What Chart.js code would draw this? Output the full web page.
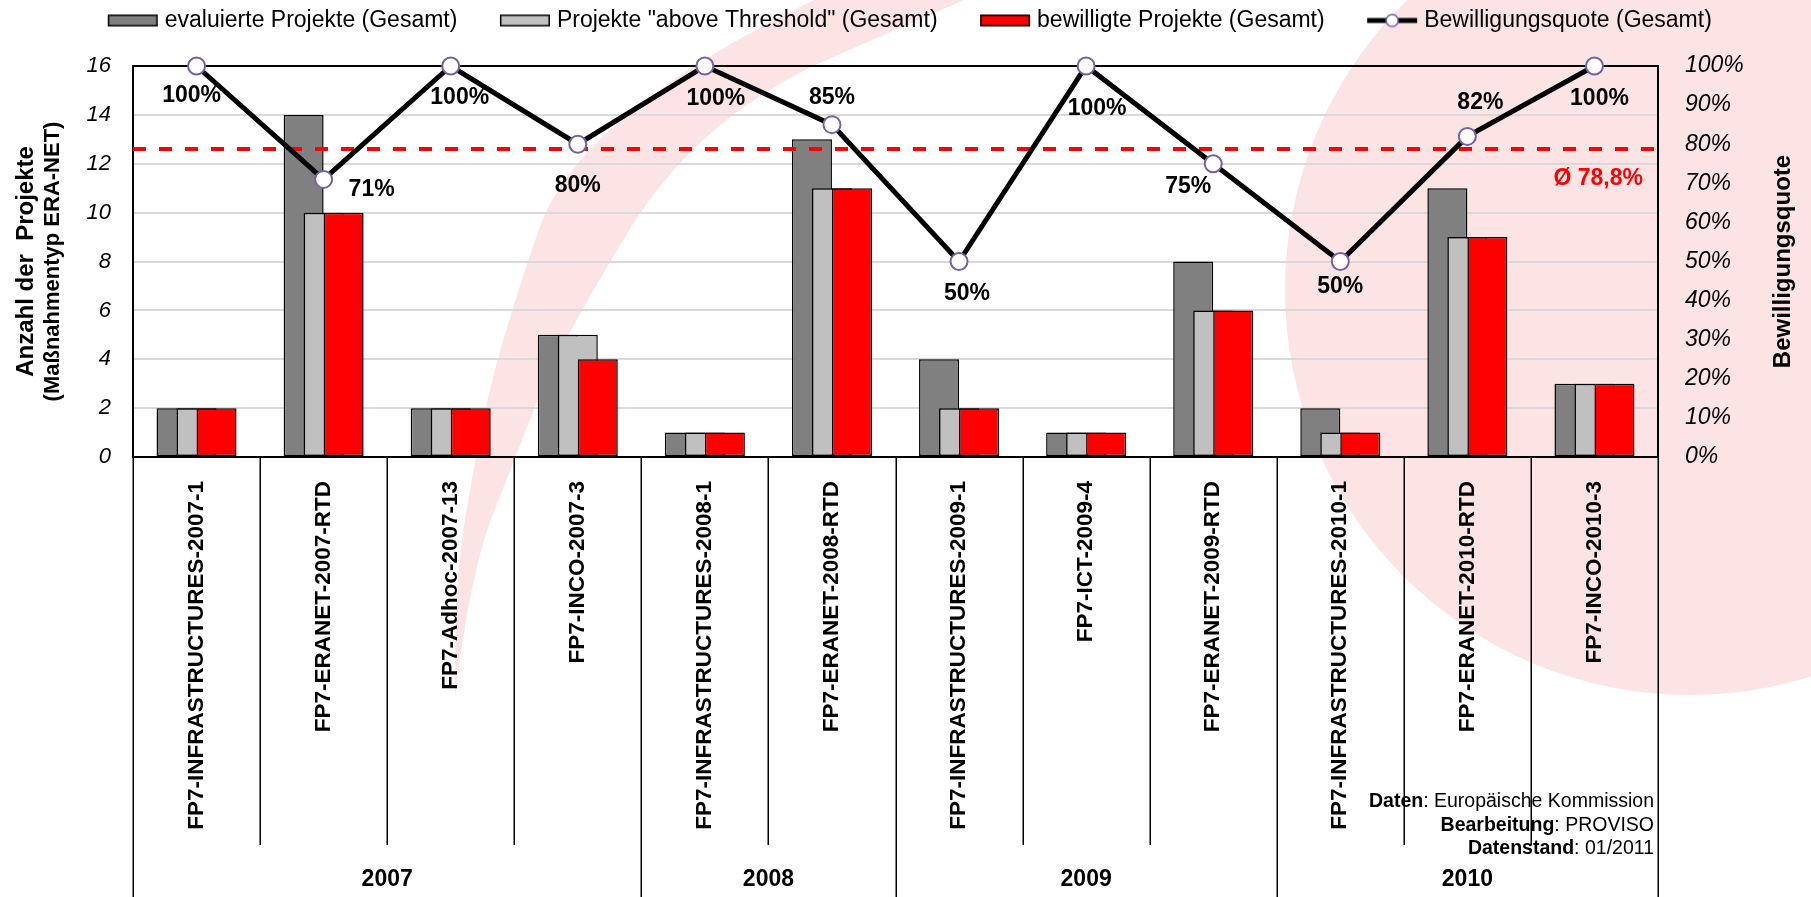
<!DOCTYPE html>
<html>
<head>
<meta charset="utf-8">
<script src="https://cdn.jsdelivr.net/npm/chart.js@4.4.1/dist/chart.umd.min.js"></script>
<style>
  html, body { margin: 0; padding: 0; background: #fff; }
  #wrap { width: 1811px; height: 897px; position: relative; }
</style>
</head>
<body>
<div id="wrap"><canvas id="c"></canvas></div>
<script>
// ---------------- data ----------------
const categories = [
  'FP7-INFRASTRUCTURES-2007-1', 'FP7-ERANET-2007-RTD', 'FP7-Adhoc-2007-13', 'FP7-INCO-2007-3',
  'FP7-INFRASTRUCTURES-2008-1', 'FP7-ERANET-2008-RTD',
  'FP7-INFRASTRUCTURES-2009-1', 'FP7-ICT-2009-4', 'FP7-ERANET-2009-RTD',
  'FP7-INFRASTRUCTURES-2010-1', 'FP7-ERANET-2010-RTD', 'FP7-INCO-2010-3'
];
const years = ['2007', '2008', '2009', '2010'];
const yearSpans = [4, 2, 3, 3];
const evaluated = [2, 14, 2, 5, 1, 13, 4, 1, 8, 2, 11, 3];
const aboveThreshold = [2, 10, 2, 5, 1, 11, 2, 1, 6, 1, 9, 3];
const approved = [2, 10, 2, 4, 1, 11, 2, 1, 6, 1, 9, 3];
const approvalRate = [100, 71, 100, 80, 100, 85, 50, 100, 75, 50, 82, 100];
const averageRate = 78.8;
const averageLabel = 'Ø 78,8%';
const seriesNames = [
  'evaluierte Projekte (Gesamt)',
  'Projekte "above Threshold" (Gesamt)',
  'bewilligte Projekte (Gesamt)',
  'Bewilligungsquote (Gesamt)'
];
const leftAxisTitle = ['Anzahl der  Projekte', '(Maßnahmentyp ERA-NET)'];
const rightAxisTitle = 'Bewilligungsquote';
const sourceLines = [
  ['Daten', ': Europäische Kommission'],
  ['Bearbeitung', ': PROVISO'],
  ['Datenstand', ': 01/2011']
];

// ---------------- styles ----------------
const FONT = "'Liberation Sans', Arial, Helvetica, sans-serif";
const PINK = 'rgb(252,228,228)';
const barColors = ['#808080', '#c0c0c0', '#ff0000'];
const markerBorder = '#7560a8';
// label offsets (dx, dy) relative to each marker
const labelOffsets = [[-5,30],[48,10],[9,32],[0,41],[11,33],[0,-27],[8,32],[11,43],[-25,23],[0,25],[13,-34],[5,33]];

const LEG_P = 79;            // reserved legend symbol width
const LEG_W = LEG_P + 17;    // icon canvas width
const LEG_BOX = LEG_P - 37;  // box left inside icon canvas

function makeIcon(kind, color) {
  const cv = document.createElement('canvas');
  cv.width = LEG_W; cv.height = 22;
  const g = cv.getContext('2d');
  if (kind === 'bar') {
    g.fillStyle = color; g.fillRect(LEG_BOX, 5, 50, 12);
    g.strokeStyle = '#000'; g.lineWidth = 1.5; g.strokeRect(LEG_BOX + 0.75, 5.75, 48.5, 10.5);
  } else {
    g.strokeStyle = '#000'; g.lineWidth = 5;
    g.beginPath(); g.moveTo(LEG_BOX, 11); g.lineTo(LEG_BOX + 50, 11); g.stroke();
    g.fillStyle = '#fff'; g.strokeStyle = markerBorder; g.lineWidth = 1.5;
    g.beginPath(); g.arc(LEG_BOX + 25, 11, 6, 0, Math.PI * 2); g.fill(); g.stroke();
  }
  return cv;
}
const legendIcons = [makeIcon('bar', barColors[0]), makeIcon('bar', barColors[1]), makeIcon('bar', barColors[2]), makeIcon('line')];

function smoothPath(ctx, pts, start) {
  if (start) ctx.moveTo(pts[0][0], pts[0][1]); else ctx.lineTo(pts[0][0], pts[0][1]);
  for (let i = 1; i < pts.length - 1; i++) {
    const mx = (pts[i][0] + pts[i + 1][0]) / 2, my = (pts[i][1] + pts[i + 1][1]) / 2;
    ctx.quadraticCurveTo(pts[i][0], pts[i][1], mx, my);
  }
  ctx.lineTo(pts[pts.length - 1][0], pts[pts.length - 1][1]);
}

const bgPlugin = {
  id: 'bg',
  beforeDraw(chart) {
    const ctx = chart.ctx;
    ctx.save();
    ctx.fillStyle = '#fff'; ctx.fillRect(0, 0, chart.width, chart.height);
    ctx.fillStyle = PINK;
    ctx.beginPath(); ctx.arc(1690, 290, 405, 0, Math.PI * 2); ctx.fill();
    const outer = [[814,0],[578,115],[500,343],[475,458],[456,573],[455,697]];
    const inner = [[964,0],[700,115],[560,343],[515,458],[470,573],[455,697]];
    ctx.beginPath();
    smoothPath(ctx, outer, true);
    smoothPath(ctx, inner.slice().reverse(), false);
    ctx.closePath(); ctx.fill();
    ctx.restore();
  }
};

const layoutPlugin = {
  id: 'legendHeight',
  beforeLayout(chart) {
    const lg = chart.legend;
    if (lg && !lg.__patched) {
      const f = lg.fit;
      lg.fit = function () { f.call(this); this.height = 66; };
      lg.__patched = true;
    }
  }
};

const drawPlugin = {
  id: 'custom',
  beforeDatasetsDraw(chart) {
    const { ctx, chartArea: a, scales } = chart;
    ctx.save();
    ctx.strokeStyle = '#000'; ctx.lineWidth = 2;
    ctx.strokeRect(a.left, a.top, a.right - a.left, a.bottom - a.top);
    ctx.restore();
    const metas = chart.getSortedVisibleDatasetMetas().slice().sort((m1, m2) => m1.index - m2.index);
    metas.filter(m => m.type === 'bar').forEach(m => m.controller.draw());
    // average line
    const yAvg = scales.y1.getPixelForValue(averageRate);
    ctx.save();
    ctx.strokeStyle = '#ff0000'; ctx.lineWidth = 4; ctx.setLineDash([13, 13]);
    ctx.beginPath(); ctx.moveTo(a.left, yAvg); ctx.lineTo(a.right, yAvg); ctx.stroke();
    ctx.setLineDash([]);
    ctx.fillStyle = '#ff0000'; ctx.font = `bold 23px ${FONT}`;
    ctx.textAlign = 'right'; ctx.textBaseline = 'middle';
    ctx.fillText(averageLabel, a.right - 15, yAvg + 30);
    ctx.restore();
    metas.filter(m => m.type === 'line').forEach(m => {
      m.controller.draw();
      ctx.save();
      ctx.fillStyle = '#000'; ctx.font = `bold 23px ${FONT}`;
      ctx.textAlign = 'center'; ctx.textBaseline = 'middle';
      m.data.forEach((pt, i) => {
        const off = labelOffsets[i];
        ctx.fillText(approvalRate[i] + '%', pt.x + off[0], pt.y + off[1]);
      });
      ctx.restore();
    });
    return false;
  },
  afterDraw(chart) {
    const { ctx, chartArea: a, scales } = chart;
    const xs = scales.x;
    ctx.save();
    // axis titles
    ctx.fillStyle = '#000'; ctx.textAlign = 'center'; ctx.textBaseline = 'middle';
    const cy = (a.top + a.bottom) / 2;
    ctx.font = `bold 24px ${FONT}`;
    ctx.save(); ctx.translate(26, cy); ctx.rotate(-Math.PI / 2); ctx.fillText(leftAxisTitle[0], 0, 0); ctx.restore();
    ctx.font = `bold 22px ${FONT}`;
    ctx.save(); ctx.translate(53, cy); ctx.rotate(-Math.PI / 2); ctx.fillText(leftAxisTitle[1], 0, 0); ctx.restore();
    ctx.font = `bold 24px ${FONT}`;
    ctx.save(); ctx.translate(1783, cy); ctx.rotate(-Math.PI / 2); ctx.fillText(rightAxisTitle, 0, 0); ctx.restore();

    // source text
    ctx.textAlign = 'right';
    const sx = a.right - 4;
    sourceLines.forEach((ln, i) => {
      const y = 802 + i * 23.5;
      ctx.font = `19.5px ${FONT}`;
      const w = ctx.measureText(ln[1]).width;
      ctx.fillText(ln[1], sx, y);
      ctx.font = `bold 19.5px ${FONT}`;
      ctx.fillText(ln[0], sx - w, y);
    });

    // category separators and year labels
    const n = categories.length;
    const bound = k => k === 0 ? a.left : (k === n ? a.right : (xs.getPixelForValue(k - 1) + xs.getPixelForValue(k)) / 2);
    const yearBounds = [0];
    yearSpans.forEach(s => yearBounds.push(yearBounds[yearBounds.length - 1] + s));
    ctx.strokeStyle = '#000'; ctx.lineWidth = 1.5;
    for (let k = 0; k <= n; k++) {
      const x = Math.round(bound(k)) + 0.25;
      const full = yearBounds.includes(k);
      ctx.beginPath(); ctx.moveTo(x, a.bottom); ctx.lineTo(x, full ? chart.height : 845); ctx.stroke();
    }
    ctx.textAlign = 'center'; ctx.font = `bold 23px ${FONT}`;
    years.forEach((yr, i) => {
      const x0 = bound(yearBounds[i]), x1 = bound(yearBounds[i + 1]);
      ctx.fillText(yr, (x0 + x1) / 2, 880);
    });
    ctx.restore();
  }
};

// ---------------- chart ----------------
const barCommon = { borderColor: '#000', borderWidth: 1.5, borderSkipped: false, categoryPercentage: 60 / 127.08, barPercentage: 2, yAxisID: 'y' };

new Chart(document.getElementById('c'), {
  type: 'bar',
  data: {
    labels: categories,
    datasets: [
      Object.assign({ label: seriesNames[0], data: evaluated, backgroundColor: barColors[0] }, barCommon),
      Object.assign({ label: seriesNames[1], data: aboveThreshold, backgroundColor: barColors[1] }, barCommon),
      Object.assign({ label: seriesNames[2], data: approved, backgroundColor: barColors[2] }, barCommon),
      {
        type: 'line', label: seriesNames[3], data: approvalRate, yAxisID: 'y1',
        borderColor: '#000', borderWidth: 5, tension: 0, fill: false,
        pointRadius: 8.5, pointBorderWidth: 2, pointBorderColor: markerBorder, pointBackgroundColor: '#fff'
      }
    ]
  },
  options: {
    responsive: true, maintainAspectRatio: false, animation: false, events: [],
    layout: { padding: { top: 0, left: 0, right: 25, bottom: 0 } },
    plugins: {
      tooltip: { enabled: false },
      legend: {
        position: 'top',
        labels: {
          usePointStyle: true, pointStyleWidth: LEG_P, boxHeight: 23, padding: 9,
          color: '#000', font: { family: FONT, size: 23 },
          generateLabels(chart) {
            return chart.data.datasets.map((ds, i) => ({
              text: ds.label, pointStyle: legendIcons[i], datasetIndex: i, hidden: false,
              fontColor: '#000', lineWidth: 0, strokeStyle: 'rgba(0,0,0,0)', fillStyle: 'rgba(0,0,0,0)'
            }));
          }
        }
      }
    },
    scales: {
      x: {
        type: 'category',
        grid: { display: false, drawTicks: false },
        border: { display: false },
        ticks: { minRotation: 90, maxRotation: 90, autoSkip: false, padding: 24, color: '#000', font: { family: FONT, size: 22.5, weight: 'bold' } },
        afterFit(s) { s.height = 440; }
      },
      y: {
        position: 'left', min: 0, max: 16,
        grid: { color: '#d9d9d9', lineWidth: 2, drawTicks: false },
        border: { display: false },
        ticks: { stepSize: 2, padding: 22, color: '#000', font: { family: FONT, size: 22, style: 'italic' } },
        afterFit(s) { s.width = 133; }
      },
      y1: {
        position: 'right', min: 0, max: 100,
        grid: { display: false, drawTicks: false },
        border: { display: false },
        ticks: { stepSize: 10, padding: 27, color: '#000', font: { family: FONT, size: 23, style: 'italic' }, callback: v => v + '%' },
        afterFit(s) { s.width = 128; }
      }
    }
  },
  plugins: [bgPlugin, layoutPlugin, drawPlugin]
});
</script>
</body>
</html>
